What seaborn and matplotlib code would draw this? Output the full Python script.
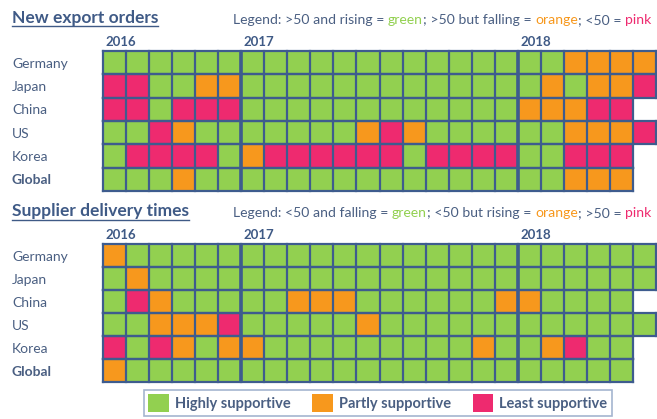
import matplotlib
matplotlib.use("Agg")
import matplotlib.pyplot as plt
import matplotlib.transforms as mtransforms
from matplotlib.colors import ListedColormap
from matplotlib.patches import Patch
from matplotlib.lines import Line2D
from matplotlib.collections import LineCollection
import seaborn as sns
import numpy as np
import pandas as pd

# 0 = highly supportive, 1 = partly supportive, 2 = least supportive, None = no data yet
countries = ["Germany", "Japan", "China", "US", "Korea", "Global"]
months = list(pd.period_range("2016-07", "2018-06", freq="M").strftime("%Y-%m"))
years = ["2016", "2017", "2018"]
year_starts = ["2016-07", "2017-01", "2018-01"]
categories = ["Highly supportive", "Partly supportive", "Least supportive"]

export_orders = [
    [0, 0, 0, 0, 0, 0, 0, 0, 0, 0, 0, 0, 0, 0, 0, 0, 0, 0, 0, 0, 1, 1, 1, 1],
    [2, 2, 0, 0, 1, 1, 0, 0, 0, 0, 0, 0, 0, 0, 0, 0, 0, 0, 0, 1, 0, 1, 1, 2],
    [2, 2, 0, 2, 2, 2, 0, 0, 0, 0, 0, 0, 0, 0, 0, 0, 0, 0, 1, 1, 1, 2, 2, None],
    [0, 0, 2, 1, 0, 0, 0, 0, 0, 0, 0, 1, 2, 1, 0, 0, 0, 0, 0, 0, 1, 1, 1, 2],
    [0, 2, 2, 2, 2, 0, 1, 2, 2, 2, 2, 2, 2, 0, 2, 2, 2, 2, 0, 0, 2, 2, 2, None],
    [0, 0, 0, 1, 0, 0, 0, 0, 0, 0, 0, 0, 0, 0, 0, 0, 0, 0, 0, 0, 1, 1, 1, None],
]

delivery_times = [
    [1, 0, 0, 0, 0, 0, 0, 0, 0, 0, 0, 0, 0, 0, 0, 0, 0, 0, 0, 0, 0, 0, 0, 0],
    [0, 1, 0, 0, 0, 0, 0, 0, 0, 0, 0, 0, 0, 0, 0, 0, 0, 0, 0, 0, 0, 0, 0, 0],
    [0, 2, 1, 0, 0, 0, 0, 0, 1, 1, 1, 0, 0, 0, 0, 0, 0, 1, 1, 0, 0, 0, 0, None],
    [0, 0, 1, 1, 1, 2, 0, 0, 0, 0, 0, 1, 0, 0, 0, 0, 0, 0, 0, 0, 0, 0, 0, 0],
    [2, 0, 2, 1, 0, 1, 1, 0, 0, 0, 0, 0, 0, 0, 0, 0, 1, 0, 0, 1, 2, 0, 0, None],
    [1, 0, 0, 0, 0, 0, 0, 0, 0, 0, 0, 0, 0, 0, 0, 0, 0, 0, 0, 0, 0, 0, 0, None],
]

GREEN = "#92D050"
ORANGE = "#F7981D"
PINK = "#EE2A6F"
EDGE = "#3E5C8E"
TEXT = "#4A5F82"
TITLE = "#3F5A86"
FONT = "Lato"

W, H = 657, 419
fig = plt.figure(figsize=(W / 100, H / 100), dpi=100)
plt.rcParams["font.family"] = [FONT, "DejaVu Sans"]


def fx(px):
    return px / W


def fy(py):
    return 1 - py / H


def colored_line(x, y, parts, size):
    renderer = fig.canvas.get_renderer()
    cur = x
    for txt, col in parts:
        t = fig.text(fx(cur), fy(y), txt, color=col, fontsize=size, va="center", ha="left")
        cur += t.get_window_extent(renderer).width


def draw_panel(top, bottom, data, title, legend_parts):
    ax = fig.add_axes([fx(103), fy(bottom), fx(656) - fx(103), fy(top) - fy(bottom)])
    df = pd.DataFrame(data, index=countries, columns=months, dtype=float)
    sns.heatmap(df, mask=df.isna(), cmap=ListedColormap([GREEN, ORANGE, PINK]),
                vmin=-0.5, vmax=2.5, cbar=False, linewidths=0, ax=ax)
    ax.set_xticks([])
    ax.set_yticks([])
    ax.set_xlabel("")
    ax.set_ylabel("")

    # cell borders only where there is data
    segs = []
    for i, n in enumerate(df.notna().sum(axis=1)):
        segs.append([(0, i), (n, i)])
        segs.append([(0, i + 1), (n, i + 1)])
        for c in range(n + 1):
            segs.append([(c, i), (c, i + 1)])
    ax.add_collection(LineCollection(segs, colors=EDGE, linewidths=1.6, clip_on=False,
                                     capstyle="projecting"))
    # thicker separators at year changes
    for ys in year_starts[1:]:
        ax.vlines(months.index(ys), 0, len(countries), color=EDGE, linewidth=2.6)

    trans = mtransforms.blended_transform_factory(fig.transFigure, ax.transData)
    for i, name in enumerate(countries):
        ax.text(fx(12), i + 0.55, name, transform=trans, va="center", ha="left",
                fontsize=10, color=TEXT, fontweight="bold" if name == "Global" else "normal",
                clip_on=False)

    trans_y = mtransforms.blended_transform_factory(ax.transData, fig.transFigure)
    for yr, ys in zip(years, year_starts):
        ax.text(months.index(ys) + 0.1, fy(top - 9), yr, transform=trans_y, va="center",
                ha="left", fontsize=9.5, fontweight="bold", color=TITLE, clip_on=False)

    t = fig.text(fx(12), fy(top - 33), title, fontsize=12.5, fontweight="bold",
                 color=TITLE, va="center", ha="left")
    bb = t.get_window_extent(fig.canvas.get_renderer())
    fig.add_artist(Line2D([bb.x0 / W, bb.x1 / W], [fy(top - 24.5)] * 2,
                          transform=fig.transFigure, color=TITLE, linewidth=1))
    colored_line(233, top - 31, legend_parts, 10.1)


draw_panel(51, 191, export_orders, "New export orders",
           [("Legend: >50 and rising = ", TEXT), ("green", GREEN),
            ("; >50 but falling = ", TEXT), ("orange", ORANGE),
            ("; <50 = ", TEXT), ("pink", PINK)])
draw_panel(244, 382, delivery_times, "Supplier delivery times",
           [("Legend: <50 and falling = ", TEXT), ("green", GREEN),
            ("; <50 but rising = ", TEXT), ("orange", ORANGE),
            ("; >50 = ", TEXT), ("pink", PINK)])

handles = [Patch(facecolor=c, edgecolor="none") for c in [GREEN, ORANGE, PINK]]
leg = fig.legend(handles, categories, ncol=3, loc="upper center",
                 bbox_to_anchor=(fx(378), fy(390)), frameon=True, fancybox=False,
                 edgecolor="#8EA3C4", handlelength=1.4, handleheight=1.45,
                 columnspacing=1.45, handletextpad=0.45, borderpad=0.3,
                 borderaxespad=0,
                 prop={"family": FONT, "weight": "bold", "size": 10.5})
leg.get_frame().set_linewidth(1.2)
for txt in leg.get_texts():
    txt.set_color(TEXT)

fig.savefig("out.png", dpi=100)
